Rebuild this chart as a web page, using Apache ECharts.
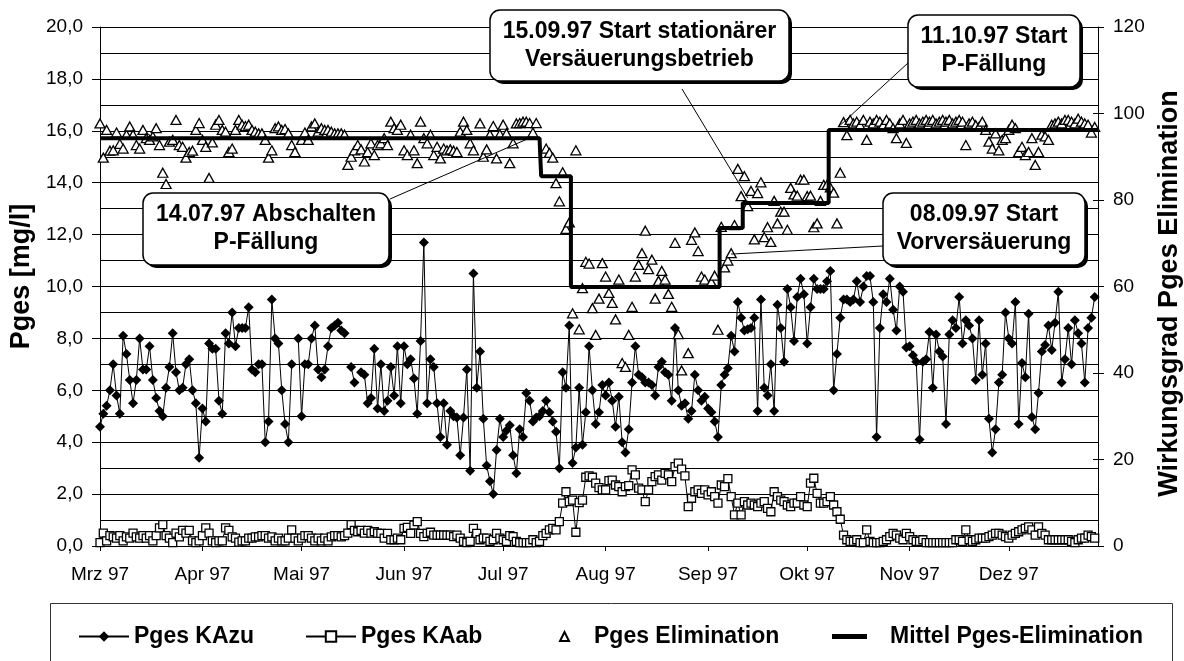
<!DOCTYPE html>
<html><head><meta charset="utf-8">
<script src="https://cdn.jsdelivr.net/npm/echarts@6/dist/echarts.min.js"></script>
<style>html,body{margin:0;padding:0;background:#fff}#c{width:1184px;height:661px}</style>
</head><body><div id="c"></div>
<script>
// ---------- data (daily values from 01.03.1997) ----------
const startDate = [1997, 2, 1];
const dayCount = 303;
const monthNames = ['Jan','Feb','Mrz','Apr','Mai','Jun','Jul','Aug','Sep','Okt','Nov','Dez'];

const pgesKAzu = [
4.6,5.1,5.4,6.0,7.0,5.8,5.1,8.1,7.4,6.4, 5.5,6.4,8.0,6.8,6.8,7.7,6.4,5.7,5.2,5.0,
6.1,6.9,8.2,6.7,6.0,6.1,7.0,7.2,6.0,5.5, 3.4,5.3,4.8,7.8,7.6,7.6,5.6,5.1,8.2,7.8,
9.0,7.7,8.4,8.4,8.4,9.2,6.8,6.7,7.0,7.0, 4.0,4.8,9.5,8.0,7.8,6.0,4.7,4.0,7.0,null,
8.0,5.0,7.0,7.0,8.0,8.5,6.8,6.5,6.8,7.7, 8.4,8.5,8.6,8.3,8.2,null,6.9,6.3,null,6.7,
6.6,5.5,5.7,7.6,5.3,7.0,5.2,5.6,6.9,5.8, 7.7,5.5,7.7,7.0,7.2,6.45,5.1,7.9,11.7,5.5,
7.2,6.9,5.5,4.2,5.5,3.9,5.2,5.0,4.95,3.5, 4.95,6.8,2.9,10.5,6.1,7.5,4.9,3.1,2.5,2.0,
3.7,4.9,4.2,4.45,4.65,3.5,2.8,4.5,4.2,5.9, 5.6,4.8,4.95,5.0,5.2,5.6,5.15,4.8,4.4,3.0,
6.7,6.1,8.5,3.2,3.8,6.1,3.9,5.15,7.7,6.0, 4.7,5.15,6.2,5.8,6.3,5.6,4.6,5.75,4.0,3.6,
4.5,6.3,7.7,6.6,6.5,6.3,6.3,6.2,5.8,6.9, 7.1,6.7,6.6,5.6,8.4,6.0,5.4,5.5,4.9,5.2,
6.6,6.0,5.6,5.75,5.3,5.15,4.8,4.2,6.2,6.6, 6.85,8.1,7.5,9.4,8.8,8.3,8.35,8.4,8.8,5.2,
9.5,6.1,5.8,7.0,5.2,9.3,8.4,7.1,9.9,9.2, 7.9,9.6,10.3,9.7,7.8,9.2,10.3,9.9,9.9,9.9,
10.2,10.6,6.0,7.4,8.8,9.5,9.5,9.4,9.5,10.2, 9.4,10.0,10.4,10.4,9.4,4.2,8.4,9.7,9.4,10.3,
9.1,8.3,10.0,9.8,7.65,7.7,7.35,7.1,4.1,7.1, 7.2,8.25,6.1,8.15,7.5,7.3,4.7,8.15,8.7,8.4,
9.6,7.8,8.7,8.5,8.0,6.4,8.7,6.6,7.8,4.9, 3.6,4.5,6.3,6.6,9.0,8.0,7.8,9.4,4.7,7.05,
6.5,8.95,4.97,4.5,5.9,7.5,7.75,8.5,7.55,8.6, 9.8,6.3,7.2,8.4,7.0,8.7,8.2,7.8,6.3,8.4,
8.8,9.6,null
];

const pgesKAab = [
0.13,0.5,0.2,0.4,0.35,0.3,0.4,0.2,0.35,0.3, 0.5,0.35,0.3,0.4,0.3,0.4,0.2,0.4,0.7,0.82,
0.4,0.3,0.13,0.5,0.35,0.6,0.5,0.6,0.2,0.13, 0.2,0.4,0.7,0.5,0.2,0.13,0.2,0.2,0.7,0.6,
0.35,0.3,0.15,0.2,0.2,0.3,0.3,0.35,0.35,0.4, 0.4,0.3,0.35,0.2,0.3,0.2,0.2,0.3,0.62,0.3,
0.2,0.3,0.4,0.4,0.3,0.2,0.3,0.2,0.3,0.2, 0.35,0.4,0.4,0.35,0.4,0.5,0.82,0.6,0.55,0.6,
0.5,0.6,0.5,0.55,0.5,0.49,0.30,0.49,0.24,0.24, 0.30,0.24,0.68,0.72,0.49,0.81,0.94,0.49,0.36,0.49,
0.53,0.42,0.42,0.42,0.42,0.42,0.42,0.36,0.42,0.30, 0.18,0.13,0.18,0.68,0.49,0.24,0.30,0.30,0.18,0.24,
0.49,0.30,0.24,0.18,0.40,0.36,0.18,0.13,0.13,0.13, 0.13,0.24,0.13,0.18,0.40,0.49,0.62,0.68,0.62,0.94,
1.65,2.09,1.71,1.77,0.53,1.67,1.77,2.65,2.70,2.65, 2.42,2.25,2.16,2.16,2.52,2.54,2.35,2.29,2.09,2.29,
2.33,2.93,2.74,2.23,2.16,1.71,2.16,2.48,2.67,2.74, 2.54,2.80,2.74,2.48,3.06,3.19,2.96,2.70,1.52,1.84,
2.09,2.16,2.03,2.16,1.97,2.09,1.90,1.65,2.35,2.29, 2.60,1.90,1.20,1.65,1.20,1.71,1.58,1.65,1.58,1.52,
1.65,1.71,1.45,1.32,2.09,1.90,1.77,1.71,1.58,1.52, 1.65,1.65,1.90,1.58,1.52,2.42,2.61,2.03,1.65,1.65,
1.71,1.90,1.58,1.32,1.03,0.42,0.24,0.18,0.18,0.24, 0.13,0.13,0.62,0.18,0.13,0.13,0.13,0.18,0.24,0.36,
0.49,0.42,0.30,0.24,0.49,0.36,0.24,0.18,0.18,0.24, 0.13,0.13,0.13,0.13,0.13,0.13,0.13,0.13,0.13,0.24,
0.24,0.18,0.62,0.24,0.18,0.24,0.30,0.30,0.30,0.36, 0.42,0.49,0.49,0.42,0.36,0.30,0.42,0.49,0.55,0.62,
0.68,0.74,0.62,0.42,0.74,0.49,0.42,0.24,0.24,0.24, 0.24,0.24,0.24,0.24,0.18,0.13,0.24,0.30,0.30,0.42,
0.36,0.30,null
];

const pgesElim = [
97.7,89.8,96.2,91.4,91.5,95.6,93.0,91.9,95.1,97.0, 95.1,92.7,91.9,96.2,94.3,93.9,94.7,96.6,92.7,86.3,
83.7,93.5,93.9,98.5,92.7,92.3,89.8,91.1,91.4,96.2, 97.8,93.9,92.3,85.1,93.3,97.4,98.5,96.2,95.8,91.1,
91.9,96.2,98.5,97.4,97.1,97.4,96.2,95.8,95.4,95.4, 93.9,89.8,91.5,96.6,97.0,96.2,96.4,95.4,92.7,91.1,
null,93.9,95.6,93.9,97.0,97.7,95.8,96.6,96.2,96.2, 95.8,95.4,95.4,95.4,95.1,88.1,90.0,91.5,92.7,91.7,
88.9,91.1,93.1,90.4,92.7,93.1,94.3,92.7,98.1,96.6, 96.2,97.4,91.5,90.4,95.1,91.5,88.5,98.1,94.3,93.1,
95.1,90.4,92.3,89.6,91.9,91.5,91.7,91.4,91.1,95.8, 98.1,96.2,93.1,91.5,null,97.7,90.0,91.7,95.1,97.1,
89.6,95.2,97.4,95.4,88.5,93.1,97.7,97.8,98.1,98.1, 97.8,95.6,97.8,null,null,91.9,90.9,89.8,83.9,79.7,
86.4,73.3,74.8,53.8,91.5,50.1,59.6,65.7,65.3,55.0, 48.8,57.2,65.4,62.3,58.5,56.2,52.4,61.6,42.3,41.4,
48.8,55.3,62.3,65.0,67.7,72.9,64.0,66.2,57.2,61.3, 63.6,61.6,58.3,55.3,70.1,49.0,40.6,null,44.6,70.8,
72.5,68.2,62.3,61.6,null,61.0,62.5,50.0,73.8,64.4, 66.0,67.7,74.2,87.2,80.9,85.5,78.6,82.1,70.9,81.6,
84.1,71.4,73.7,70.3,79.8,74.6,77.3,77.3,73.1,82.8, 81.3,81.0,84.7,84.7,80.9,81.0,73.7,74.6,79.8,83.5,
83.5,82.9,81.7,74.6,86.3,98.0,95.0,98.5,97.7,98.1, 97.3,98.5,93.9,98.1,97.7,98.5,98.1,97.3,98.5,97.7,
96.6,94.3,97.7,98.5,93.2,97.7,98.1,98.5,97.7,98.1, 98.5,98.1,98.5,97.7,98.1,98.5,98.1,98.5,97.7,98.1,
98.5,98.1,92.7,97.7,98.1,97.3,96.9,98.1,96.2,93.5, 91.9,95.4,91.5,93.9,94.3,96.2,97.4,96.6,91.1,92.3,
90.4,91.1,94.3,88.1,91.1,95.1,94.7,93.9,97.4,97.7, 98.1,97.7,98.5,98.5,98.1,97.7,98.8,98.1,97.7,97.4,
95.6,96.9,null
];

// mean elimination per operating period (level valid from start date on)
const meanLevels = [94.3, 85.5, 59.9, 73.5, 79.3, 96.2];
const meanStarts = ['1997-03-01','1997-07-13','1997-07-22','1997-09-05','1997-09-12','1997-10-08'];

// annotations: text lines, anchor date/value on the right axis
const notes = [
  {lines:['14.07.97 Abschalten','P-Fällung'], date:'1997-07-08', value:94.0},
  {lines:['15.09.97 Start stationärer','Versäuerungsbetrieb'], date:'1997-09-13', value:80.5},
  {lines:['11.10.97 Start','P-Fällung'], date:'1997-10-11', value:97.3},
  {lines:['08.09.97 Start','Vorversäuerung'], date:'1997-09-08', value:67.5}
];

// ---------- build ----------
const categories = [];
(function(){
  const t0 = Date.UTC(startDate[0], startDate[1], startDate[2]);
  for (let i = 0; i < dayCount; i++) categories.push(new Date(t0 + i*86400000).toISOString().slice(0,10));
})();
const meanSeries = categories.map(c => {
  let v = null;
  for (let k = 0; k < meanStarts.length; k++) if (c >= meanStarts[k]) v = meanLevels[k];
  return v;
});

const F = '"Liberation Sans", Arial, sans-serif';
const isMonthStart = (idx, val) => String(val).slice(8) === '01';
const fmtMonth = v => monthNames[parseInt(v.slice(5,7),10)-1] + ' ' + v.slice(2,4);
const legendText = {fontSize:23, fontWeight:'bold', fontFamily:F, color:'#000'};

const chart = echarts.init(document.getElementById('c'), null, {renderer:'canvas'});
chart.setOption({
  animation:false,
  backgroundColor:'#fff',
  grid:{left:100, right:86, top:27, bottom:115, containLabel:false, outerBoundsMode:'none'},
  xAxis:{
    type:'category', data:categories, boundaryGap:false,
    axisLine:{show:true, onZero:false, lineStyle:{color:'#000', width:1}},
    axisTick:{show:true, length:5, interval:isMonthStart, lineStyle:{color:'#000'}},
    axisLabel:{interval:isMonthStart, formatter:fmtMonth, color:'#000', fontSize:19, fontFamily:F, margin:19},
    splitLine:{show:false}
  },
  yAxis:[
    {type:'value', min:0, max:20, interval:2, position:'left',
     name:'Pges [mg/l]', nameLocation:'middle', nameGap:62, nameRotate:90,
     nameTextStyle:{fontSize:27, fontWeight:'bold', fontFamily:F, color:'#000', padding:[0,0,0,20]},
     axisLine:{show:true, lineStyle:{color:'#000', width:1}},
     axisTick:{show:true, length:8, lineStyle:{color:'#000'}},
     axisLabel:{formatter:v => v.toFixed(1).replace('.', ','), color:'#000', fontSize:19, fontFamily:F, margin:17},
     splitLine:{show:true, lineStyle:{color:'#000', width:1}},
     minorTick:{show:false, splitNumber:2},
     minorSplitLine:{show:true, lineStyle:{color:'#000', width:1}}},
    {type:'value', min:0, max:120, interval:20, position:'right',
     name:'Wirkungsgrad Pges Elimination', nameLocation:'middle', nameGap:52, nameRotate:90,
     nameTextStyle:{fontSize:27, fontWeight:'bold', fontFamily:F, color:'#000', padding:[0,14,0,0]},
     axisLine:{show:true, lineStyle:{color:'#000', width:1}},
     axisTick:{show:true, length:6, lineStyle:{color:'#000'}},
     axisLabel:{color:'#000', fontSize:19, fontFamily:F, margin:15},
     splitLine:{show:false}},
    {type:'value', min:0, max:120, interval:20, position:'right',
     axisLine:{show:false}, axisTick:{show:true, inside:true, length:5, lineStyle:{color:'#000'}},
     axisLabel:{show:false}, splitLine:{show:false}}
  ],
  legend:[
    {left:78, top:625, padding:0, itemWidth:50, itemHeight:13, data:['Pges KAzu'], textStyle:legendText, selectedMode:false},
    {left:305, top:625, padding:0, itemWidth:50, itemHeight:13, data:['Pges KAab'], textStyle:legendText, selectedMode:false},
    {left:559, top:625, padding:0, itemWidth:9, itemHeight:9, data:[{name:'Pges Elimination', icon:'triangle'}],
     textStyle:Object.assign({padding:[0,0,0,20]}, legendText), selectedMode:false},
    {left:832, top:625, padding:0, itemWidth:35, itemHeight:5, data:[{name:'Mittel Pges-Elimination', icon:'rect'}],
     textStyle:Object.assign({padding:[0,0,0,18]}, legendText), selectedMode:false}
  ],
  series:[
    {name:'Pges KAzu', type:'line', yAxisIndex:0, data:pgesKAzu, symbol:'diamond', symbolSize:10, showAllSymbol:true,
     connectNulls:false, lineStyle:{color:'#000', width:1}, itemStyle:{color:'#000'}, z:3},
    {name:'Pges KAab', type:'line', yAxisIndex:0, data:pgesKAab, symbol:'rect', symbolSize:8, showAllSymbol:true,
     connectNulls:false, lineStyle:{color:'#000', width:1}, itemStyle:{color:'#fff', borderColor:'#000', borderWidth:1.3}, z:4},
    {name:'Pges Elimination', type:'scatter', yAxisIndex:1, data:pgesElim, symbol:'triangle', symbolSize:[10,9],
     itemStyle:{color:'#fff', borderColor:'#000', borderWidth:1.3, opacity:1}, z:5},
    {name:'Mittel Pges-Elimination', type:'line', yAxisIndex:1, data:meanSeries, step:'middle', symbol:'none',
     lineStyle:{color:'#000', width:4}, itemStyle:{color:'#000'}, z:6}
  ]
});

// ---------- annotation boxes ----------
const boxes = [
  {x:143, y:193, w:246, h:72, from:[390,199]},
  {x:490, y:10,  w:299, h:71, from:[682,89]},
  {x:908, y:15,  w:172, h:72, from:[908,63]},
  {x:883, y:193, w:202, h:72, from:[883,246]}
];
const g = [];
g.push({type:'rect', z:1, silent:true, shape:{x:50.5, y:603.5, width:1122, height:80},
        style:{fill:'none', stroke:'#333', lineWidth:1}});
notes.forEach((n, i) => {
  const b = boxes[i];
  const p = chart.convertToPixel({xAxisIndex:0, yAxisIndex:1}, [n.date, n.value]);
  g.push({type:'line', z:90, silent:true, shape:{x1:b.from[0], y1:b.from[1], x2:p[0], y2:p[1]},
          style:{stroke:'#000', lineWidth:1}});
  g.push({type:'rect', z:91, silent:true, shape:{x:b.x+3, y:b.y+3, width:b.w, height:b.h, r:10},
          style:{fill:'#000'}});
  g.push({type:'rect', z:92, silent:true, shape:{x:b.x, y:b.y, width:b.w, height:b.h, r:10},
          style:{fill:'#fff', stroke:'#000', lineWidth:1.5}});
  g.push({type:'text', z:93, silent:true, x:b.x + b.w/2, y:b.y + b.h/2,
          style:{text:n.lines.join('\n'), font:'bold 23px ' + F, fill:'#000', align:'center', verticalAlign:'middle', lineHeight:28}});
});
chart.setOption({graphic:g});
</script>
</body></html>
